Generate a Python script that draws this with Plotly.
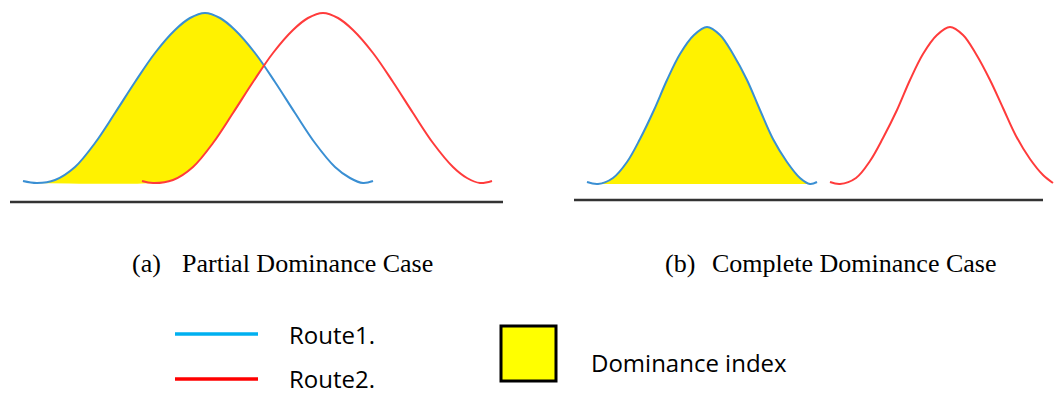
import plotly.graph_objects as go

W, H = 1055, 394

# ---- data (x position, curve height above baseline) ----
# Panel (a): partial dominance
a_route1_x = [23, 37, 55, 75, 95, 115, 135, 155, 175, 190, 205, 220, 235, 255, 275, 295, 315, 335, 350, 363, 373]
a_route1_h = [2, 0, 3, 16, 40, 70, 101, 130, 153, 165, 170, 165, 153, 130, 101, 70, 40, 16, 5, 0, 2]
a_route2_x = [142, 153, 173, 193, 213, 233, 253, 273, 293, 308, 323, 338, 353, 373, 393, 413, 433, 453, 467, 480, 492]
a_route2_h = [2, 0, 3, 16, 40, 70, 101, 130, 153, 165, 170, 165, 153, 130, 101, 70, 40, 16, 5, 0, 2]
# dominance area (a): lower edge (baseline, then Route2) and upper edge (Route1)
a_dom_low_x = [37, 153, 173, 193, 213, 233, 253, 264]
a_dom_low_h = [0, 0, 3, 16, 40, 70, 101, 117]
a_dom_up_x = [37, 55, 75, 95, 115, 135, 155, 175, 190, 205, 220, 235, 255, 264]
a_dom_up_h = [0, 3, 16, 40, 70, 101, 130, 153, 165, 170, 165, 153, 130, 117]

# Panel (b): complete dominance
b_route1_x = [587, 598, 613, 627, 640, 654, 667, 680, 694, 707, 720, 733, 747, 760, 773, 787, 800, 810, 817]
b_route1_h = [1, -1, 5, 21, 44, 73, 103, 129, 148, 156, 148, 129, 103, 73, 44, 21, 5, -1, 1]
b_route2_x = [830, 840, 856, 870, 883, 897, 910, 923, 937, 950, 963, 976, 990, 1003, 1016, 1030, 1043, 1053]
b_route2_h = [1, -1, 5, 22, 45, 73, 103, 129, 148, 156, 148, 129, 103, 75, 47, 24, 8, 0]

captions = ["(a)", "Partial Dominance Case", "(b)", "Complete Dominance Case"]
legend_labels = ["Route1.", "Route2.", "Dominance index"]

C_BLUE = "#3A8FD3"
C_RED = "#FF3B3B"
C_YELLOW = "#FFF200"

fig = go.Figure()

# dominance fills
fig.add_trace(go.Scatter(x=a_dom_low_x, y=a_dom_low_h, mode="lines", line=dict(width=0, shape="spline"),
                         hoverinfo="skip", showlegend=False))
fig.add_trace(go.Scatter(x=a_dom_up_x, y=a_dom_up_h, mode="lines", line=dict(width=0, shape="spline"),
                         fill="tonexty", fillcolor=C_YELLOW, hoverinfo="skip", showlegend=False))
fig.add_trace(go.Scatter(x=b_route1_x[1:-1], y=b_route1_h[1:-1], mode="lines",
                         line=dict(width=0, shape="spline"), fill="toself", fillcolor=C_YELLOW,
                         hoverinfo="skip", showlegend=False))

# curves
for xs, hs, col in [(a_route1_x, a_route1_h, C_BLUE), (a_route2_x, a_route2_h, C_RED),
                    (b_route1_x, b_route1_h, C_BLUE), (b_route2_x, b_route2_h, C_RED)]:
    fig.add_trace(go.Scatter(x=xs, y=hs, mode="lines", line=dict(color=col, width=2, shape="spline"),
                             showlegend=False))


def px(x):
    return x / W


def py(y):
    return 1 - y / H


shapes = [
    # baselines
    dict(type="line", xref="paper", yref="paper", x0=px(10), x1=px(503), y0=py(202), y1=py(202),
         line=dict(color="#333333", width=2.5)),
    dict(type="line", xref="paper", yref="paper", x0=px(574), x1=px(1043), y0=py(200), y1=py(200),
         line=dict(color="#333333", width=2.5)),
    # legend
    dict(type="line", xref="paper", yref="paper", x0=px(175), x1=px(258), y0=py(334), y1=py(334),
         line=dict(color="#00B0F0", width=3.5)),
    dict(type="line", xref="paper", yref="paper", x0=px(175), x1=px(258), y0=py(379), y1=py(379),
         line=dict(color="#FF0000", width=3.5)),
    dict(type="rect", xref="paper", yref="paper", x0=px(501), x1=px(556), y0=py(381), y1=py(326),
         fillcolor="#FFFF00", line=dict(color="black", width=3)),
]

serif = dict(family="Liberation Serif, Times New Roman, serif", size=26, color="black")
sans = dict(family="Open Sans, Noto Sans, sans-serif", size=24, color="black")

annotations = [
    dict(text=captions[0], x=px(131), y=py(263), font=serif),
    dict(text=captions[1], x=px(181), y=py(263), font=serif),
    dict(text=captions[2], x=px(664), y=py(263), font=serif),
    dict(text=captions[3], x=px(711), y=py(263), font=serif),
    dict(text=legend_labels[0], x=px(288), y=py(334), font=sans),
    dict(text=legend_labels[1], x=px(288), y=py(378), font=sans),
    dict(text=legend_labels[2], x=px(590), y=py(362), font=sans),
]
for a in annotations:
    a.update(xref="paper", yref="paper", xanchor="left", yanchor="middle", showarrow=False, borderpad=0)

fig.update_layout(
    width=W, height=H, margin=dict(l=0, r=0, t=0, b=0),
    paper_bgcolor="white", plot_bgcolor="white",
    xaxis=dict(range=[0, W], visible=False, fixedrange=True),
    yaxis=dict(range=[183 - H, 183], visible=False, fixedrange=True),
    shapes=shapes, annotations=annotations, showlegend=False,
)

fig.write_html("out.html", config={"displayModeBar": False})
